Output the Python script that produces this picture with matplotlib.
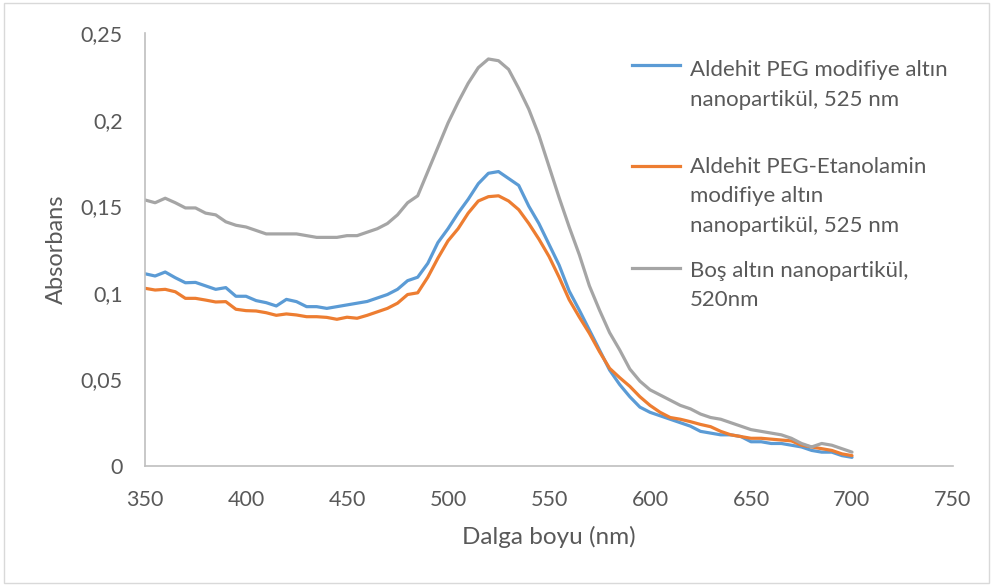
import matplotlib
matplotlib.use("Agg")
import matplotlib.pyplot as plt
from matplotlib.lines import Line2D
from matplotlib.patches import Rectangle
import numpy as np

wavelength = list(range(350, 701, 5))

aldehit_peg = [0.111, 0.1097, 0.112, 0.1087, 0.1058, 0.106, 0.104, 0.102, 0.103, 0.098,
               0.098, 0.0955, 0.0943, 0.0924, 0.0962, 0.0949, 0.092, 0.092, 0.091, 0.092,
               0.093, 0.094, 0.095, 0.097, 0.099, 0.102, 0.107, 0.109, 0.117, 0.129,
               0.137, 0.146, 0.154, 0.163, 0.169, 0.170, 0.166, 0.162, 0.150, 0.140,
               0.128, 0.116, 0.101, 0.090, 0.0785, 0.067, 0.0554, 0.047, 0.040, 0.034,
               0.031, 0.029, 0.027, 0.025, 0.023, 0.020, 0.019, 0.018, 0.018, 0.017,
               0.014, 0.014, 0.013, 0.013, 0.012, 0.011, 0.009, 0.008, 0.008, 0.006, 0.005]

aldehit_peg_etanolamin = [0.1026, 0.1016, 0.102, 0.1006, 0.0968, 0.0968, 0.0958, 0.0947, 0.0949, 0.0905,
                          0.0897, 0.0895, 0.0885, 0.087, 0.0878, 0.0872, 0.0862, 0.0862, 0.0858, 0.0847,
                          0.0859, 0.0853, 0.087, 0.089, 0.091, 0.094, 0.099, 0.100, 0.109, 0.120,
                          0.130, 0.137, 0.146, 0.153, 0.1555, 0.156, 0.153, 0.148, 0.140, 0.131,
                          0.121, 0.109, 0.096, 0.086, 0.0766, 0.066, 0.0564, 0.051, 0.046, 0.040,
                          0.035, 0.031, 0.028, 0.027, 0.0256, 0.024, 0.0227, 0.020, 0.018, 0.017,
                          0.016, 0.016, 0.0155, 0.015, 0.0145, 0.012, 0.011, 0.010, 0.009, 0.007, 0.006]

bos_altin = [0.1536, 0.152, 0.1546, 0.152, 0.149, 0.149, 0.146, 0.145, 0.141, 0.139,
             0.138, 0.136, 0.134, 0.134, 0.134, 0.134, 0.133, 0.132, 0.132, 0.132,
             0.133, 0.133, 0.135, 0.137, 0.140, 0.145, 0.152, 0.156, 0.170, 0.184,
             0.198, 0.210, 0.221, 0.230, 0.235, 0.234, 0.229, 0.218, 0.206, 0.191,
             0.173, 0.155, 0.138, 0.122, 0.104, 0.090, 0.077, 0.067, 0.056, 0.049,
             0.044, 0.041, 0.038, 0.035, 0.033, 0.030, 0.028, 0.027, 0.025, 0.023,
             0.021, 0.020, 0.019, 0.018, 0.016, 0.013, 0.011, 0.013, 0.012, 0.010, 0.008]

series_labels = ["Aldehit PEG modifiye altın\nnanopartikül, 525 nm",
                 "Aldehit PEG-Etanolamin\nmodifiye altın\nnanopartikül, 525 nm",
                 "Boş altın nanopartikül,\n520nm"]
colors = ["#5B9BD5", "#ED7D31", "#A5A5A5"]

x_ticks = [350, 400, 450, 500, 550, 600, 650, 700, 750]
y_ticks = [0, 0.05, 0.1, 0.15, 0.2, 0.25]
y_tick_labels = ["0", "0,05", "0,1", "0,15", "0,2", "0,25"]

plt.rcParams['font.family'] = ['Lato', 'DejaVu Sans']
text_color = "#595959"

fig = plt.figure(figsize=(9.92, 5.86), dpi=100)
ax = fig.add_axes([145/992, 1-466/586, (953-145)/992, (466-33)/586])

series = [aldehit_peg, aldehit_peg_etanolamin, bos_altin]
for vals, col in zip(series, colors):
    ax.plot(wavelength, vals, color=col, lw=2.3, solid_joinstyle='round', solid_capstyle='round')

ax.set_xlim(350, 750)
ax.set_ylim(0, 0.25)
ax.set_xticks(x_ticks)
ax.set_xticklabels([str(v) for v in x_ticks])
ax.set_yticks(y_ticks)
ax.set_yticklabels(y_tick_labels)
ax.tick_params(length=0, labelsize=15.5, colors=text_color)
ax.tick_params(axis='x', pad=17)
ax.tick_params(axis='y', pad=16)
for s in ['top', 'right']:
    ax.spines[s].set_visible(False)
for s in ['left', 'bottom']:
    ax.spines[s].set_color('#BFBFBF')
    ax.spines[s].set_linewidth(1.2)

ax.set_xlabel("Dalga boyu (nm)", fontsize=17.5, color=text_color, labelpad=12)
ax.set_ylabel("Absorbans", fontsize=17, color=text_color, labelpad=10)

# legend (handle aligned with first text line)
leg_handle_y = [65, 166, 268]
leg_base_y = [76, 173, 277]
line_step = 29.5
for lab, col, hy, by in zip(series_labels, colors, leg_handle_y, leg_base_y):
    fig.add_artist(Line2D([632/992, 680/992], [1 - hy/586, 1 - hy/586], color=col, lw=2.3,
                          transform=fig.transFigure))
    for i, line in enumerate(lab.split("\n")):
        fig.text(690/992, 1 - (by + i*line_step)/586, line, fontsize=16, color=text_color,
                 va='baseline', ha='left', transform=fig.transFigure)

fig.add_artist(Rectangle((4/992, 3/586), 985/992, 580/586, transform=fig.transFigure,
                         fill=False, edgecolor='#D9D9D9', lw=1))

fig.savefig("out.png", dpi=100)
